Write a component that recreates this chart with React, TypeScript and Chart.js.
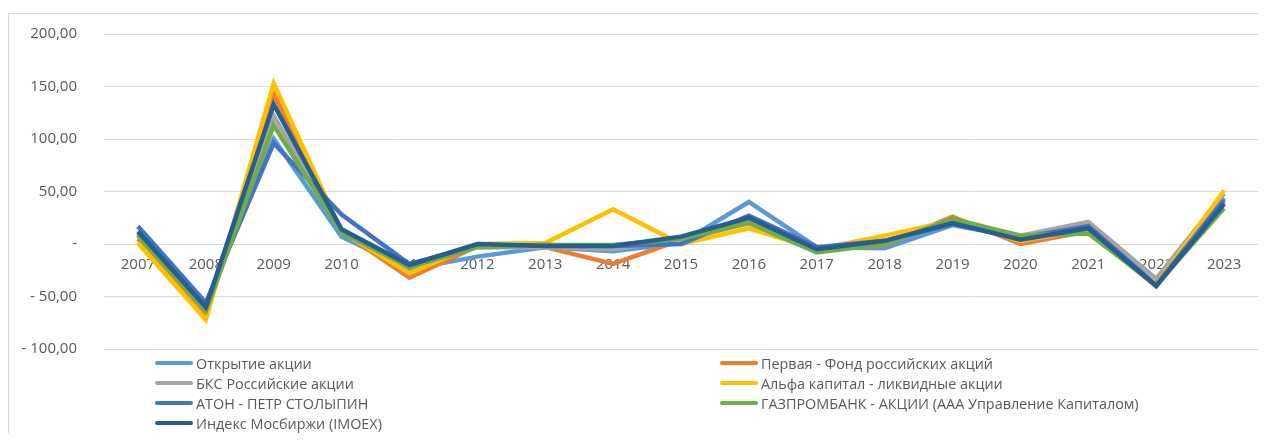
import React, { useEffect, useRef } from "react";
import { Chart, registerables } from "chart.js";

Chart.register(...registerables);

const years = ["2007","2008","2009","2010","2011","2012","2013","2014","2015","2016","2017","2018","2019","2020","2021","2022","2023"];

const seriesNames = [
  "Открытие акции",
  "Первая - Фонд российских акций",
  "БКС Российские акции",
  "Альфа капитал - ликвидные акции",
  "АТОН - ПЕТР СТОЛЫПИН",
  "ГАЗПРОМБАНК - АКЦИИ (ААА Управление Капиталом)",
  "Индекс Мосбиржи (IMOEX)",
];

const seriesColors = ["#5B9BD5", "#ED7D31", "#A5A5A5", "#FFC000", "#4472C4", "#70AD47", "#255E91"];

const otkrytie = [10, -57, 100, 7, -24, -12, -3, -7, 1, 40, -3, -4, 18, 6, 15, -39, 44];
const pervaya = [5, -68, 143, 12, -32, -2, -3, -19, 4, 20, -6, -1, 26, 0, 12, -40, 40];
const bks = [9, -63, 122, 12, -22, -3, -3, -5, 4, 22, -6, 1, 22, 8, 21, -33, 48];
const alfa = [1, -72, 153, 12, -28, 0, 1, 33, 0, 15, -5, 8, 22, 3, 14, -39, 51];
const aton = [17, -56, 96, 28, -19, -2, -1, -2, 0, 27, -3, 3, 19, 6, 17, -39, 42];
const gazprom = [8, -64, 113, 11, -22, -3, -1, -1, 5, 20, -8, 0, 24, 8, 10, -39, 34];
const imoex = [12, -60, 133, 14, -20, 0, -2, -2, 7, 25, -5, 3, 20, 4, 15, -40, 38];

const seriesValues = [otkrytie, pervaya, bks, alfa, aton, gazprom, imoex];

const FONT = "'Open Sans', sans-serif";
const TEXT = "#595959";

function fmt(v: number): string {
  if (v === 0) return "-";
  const s = Math.abs(v).toFixed(2).replace(".", ",");
  return v < 0 ? "- " + s : s;
}

export default function App() {
  const canvasRef = useRef<HTMLCanvasElement | null>(null);

  useEffect(() => {
    document.body.style.overflow = "hidden";
    const ctx = canvasRef.current!.getContext("2d")!;
    const chart = new Chart(ctx, {
      type: "line",
      data: {
        labels: years,
        datasets: seriesNames.map((name, i) => ({
          label: name,
          data: seriesValues[i],
          borderColor: seriesColors[i],
          backgroundColor: seriesColors[i],
          borderWidth: 4.5,
          pointRadius: 0,
          tension: 0,
          fill: false,
          order: seriesNames.length - i,
        })),
      },
      options: {
        animation: false,
        responsive: false,
        maintainAspectRatio: false,
        layout: { padding: { left: 0, right: 0, top: 0, bottom: 84 } },
        plugins: { legend: { display: false }, tooltip: { enabled: false } },
        scales: {
          x: {
            type: "category",
            offset: true,
            position: { y: 0 } as any,
            grid: { display: false, drawTicks: false },
            border: { display: false },
            ticks: {
              color: TEXT,
              font: { family: FONT, size: 15 },
              padding: 12,
              maxRotation: 0,
              autoSkip: false,
            },
          },
          y: {
            min: -100,
            max: 200,
            grid: { color: "#d9d9d9", lineWidth: 1, drawTicks: false },
            border: { display: false },
            ticks: {
              stepSize: 50,
              color: TEXT,
              font: { family: FONT, size: 15 },
              padding: 27,
              callback: (v: any) => fmt(Number(v)),
            },
            afterFit: (scale: any) => {
              scale.width = 96;
            },
          },
        },
      },
    });
    return () => chart.destroy();
  }, []);

  const rows = [
    [0, 1],
    [2, 3],
    [4, 5],
    [6, -1],
  ];

  return (
    <div style={{ position: "relative", width: 1250, height: 425 }}>
      <div
        style={{
          position: "absolute",
          left: 0,
          top: 5,
          width: 1262,
          height: 440,
          border: "1px solid #d9d9d9",
          boxSizing: "border-box",
        }}
      />
      <canvas ref={canvasRef} width={1250} height={435} style={{ position: "absolute", left: 0, top: -10 }} />
      {rows.map((row, r) =>
        row.map((idx, c) =>
          idx < 0 ? null : (
            <div
              key={idx}
              style={{
                position: "absolute",
                left: c === 0 ? 147 : 712,
                top: 355 + r * 20 - 10,
                height: 20,
                display: "flex",
                alignItems: "center",
                fontFamily: FONT,
                fontSize: 14.4,
                color: TEXT,
                whiteSpace: "nowrap",
              }}
            >
              <span
                style={{
                  display: "inline-block",
                  width: 38,
                  height: 4,
                  background: seriesColors[idx],
                  borderRadius: 2,
                  marginRight: 3,
                }}
              />
              <span>{seriesNames[idx]}</span>
            </div>
          )
        )
      )}
    </div>
  );
}
